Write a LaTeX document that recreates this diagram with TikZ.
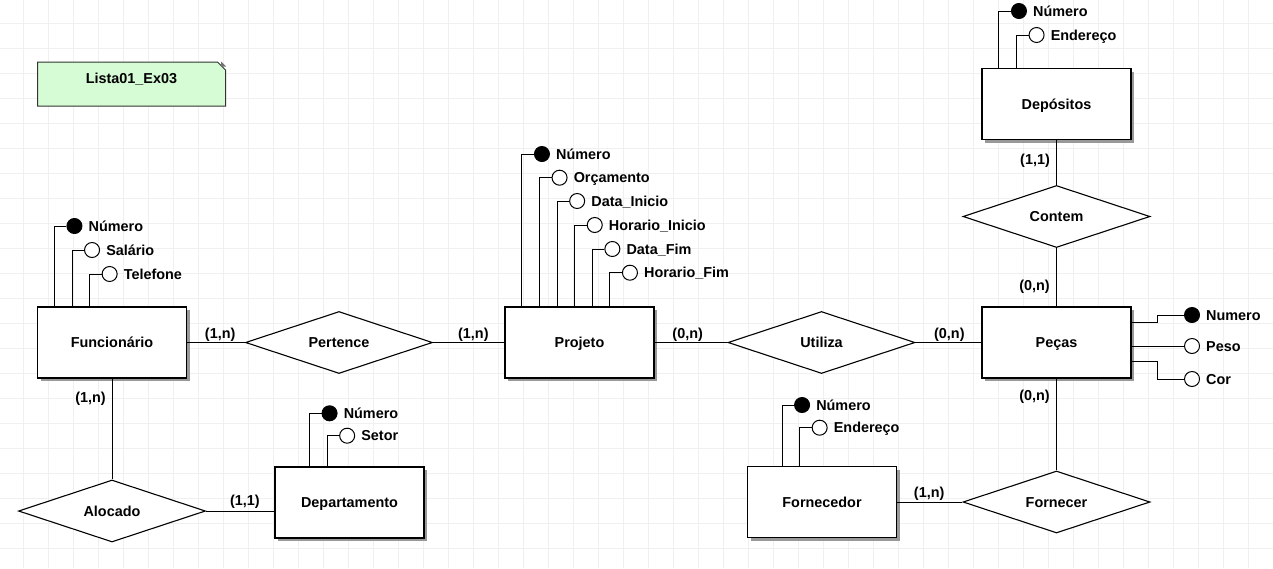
\documentclass[tikz,border=0pt]{standalone}
\usepackage{fontspec}
\setmainfont{Liberation Sans}
\usetikzlibrary{positioning, shapes.geometric, shapes.misc, shadows, calc}
\definecolor{notegreen}{RGB}{213,252,213}
\tikzset{
  entity/.style={rectangle, draw, fill=white, line width=1.3pt, minimum width=149pt,
    minimum height=71pt, inner sep=0pt, text height=10.3pt, text depth=0pt,
    copy shadow={shadow xshift=3pt, shadow yshift=-3pt, fill=black!40, draw=none}},
  relation/.style={diamond, draw, fill=white, line width=1.1pt, aspect=3, inner sep=0pt,
    minimum width=187pt, minimum height=62pt, text height=10.3pt, text depth=0pt},
  attr/.style={circle, draw, fill=white, line width=1pt, minimum size=15pt, inner sep=0pt},
  keyattr/.style={attr, fill=black},
  attrlabel/.style={inner sep=2pt, text height=10.3pt, text depth=0pt},
  card/.style={inner sep=0pt, text height=10.3pt, text depth=0pt},
  link/.style={line width=0.95pt},
  gridline/.style={draw=black!6, line width=0.8pt},
  note/.style={chamfered rectangle, chamfered rectangle corners=north east,
    chamfered rectangle xsep=4pt, chamfered rectangle ysep=4pt, draw=black!80,
    fill=notegreen, line width=1pt, minimum width=188pt, minimum height=36pt,
    inner xsep=0pt, inner ysep=6pt, text height=11pt, text depth=13pt}
}

\begin{document}
\begin{tikzpicture}[x=1pt,y=-1pt,
                    every node/.style={font=\bfseries\fontsize{14.4}{17}\selectfont}]
\useasboundingbox (0,0) rectangle (1273,568);
\fill[white] (0,0) rectangle (1273,568);

% grid
\foreach \gx in {0,...,50}
   \draw[gridline] ({23.3+25*\gx},0) -- ({23.3+25*\gx},568);
\foreach \gy in {0,...,21}
   \draw[gridline] (0,{23.3+25*\gy}) -- (1273,{23.3+25*\gy});

% title note
\node[note] (titulo) at (131.5,84) {Lista01\_Ex03};
\coordinate (foldcorner) at (titulo.east |- titulo.north);
\fill[black!55] ($(foldcorner)+(-5,0)$) -- ($(foldcorner)+(0,5)$) -- ($(foldcorner)+(-5,5)$) -- cycle;

% entities
\node[entity] (func) at (112,342.5) {Funcionário};
\node[entity] (proj) at (579.5,342.5) {Projeto};
\node[entity] (dep) at (1056.5,104) {Depósitos};
\node[entity] (pecas) at (1056.5,342.5) {Peças};
\node[entity] (forn) at (822,502) {Fornecedor};
\node[entity] (depto) at (349.5,502.5) {Departamento};

% relationships
\node[relation] (pert) at (339,342.5) {Pertence};
\node[relation] (util) at (821.5,342.5) {Utiliza};
\node[relation] (contem) at (1056.5,216.5) {Contem};
\node[relation] (forne) at (1056.5,502) {Fornecer};
\node[relation] (aloc) at (112,511) {Alocado};

\draw[link] (func.east) -- (pert.west);
\draw[link] (pert.east) -- (proj.west);
\draw[link] (proj.east) -- (util.west);
\draw[link] (util.east) -- (pecas.west);
\draw[link] (dep.south) -- (contem.north);
\draw[link] (contem.south) -- (pecas.north);
\draw[link] (pecas.south) -- (forne.north);
\draw[link] (forn.east) -- (forne.west);
\draw[link] (func.south) -- (aloc.north);
\draw[link] (aloc.east) -- (aloc.east -| depto.west);

% cardinalities
\node[card] (cFuncPert) [shift={(33,-9)}] at (func.east) {(1,n)};
\node[card] (cProjPert) [shift={(-31,-9)}] at (proj.west) {(1,n)};
\node[card] (cProjUtil) [shift={(33,-9)}] at (proj.east) {(0,n)};
\node[card] (cPecasUtil) [shift={(-32,-9)}] at (pecas.west) {(0,n)};
\node[card] (cDepCont) [shift={(-21.5,19.5)}] at (dep.south) {(1,1)};
\node[card] (cPecasCont) [shift={(-22,-21)}] at (pecas.north) {(0,n)};
\node[card] (cPecasForne) [shift={(-22,16.5)}] at (pecas.south) {(0,n)};
\node[card] (cFornForne) [shift={(32,-10)}] at (forn.east) {(1,n)};
\node[card] (cFuncAloc) [shift={(-21.5,19)}] at (func.south) {(1,n)};
\node[card] (cDeptoAloc) [shift={(-29.5,-2)}] at (depto.west) {(1,1)};

% attributes above the entities
\foreach \e/\s/\y/\kind/\txt in {
   func/1/226/keyattr/Número, func/2/250/attr/Salário, func/3/274/attr/Telefone,
   proj/1/154/keyattr/Número, proj/2/177.7/attr/Orçamento, proj/3/201/attr/Data\_Inicio,
   proj/4/225/attr/Horario\_Inicio, proj/5/249/attr/Data\_Fim, proj/6/272.7/attr/Horario\_Fim,
   dep/1/11/keyattr/Número, dep/2/35/attr/Endereço,
   forn/2/405/keyattr/Número, forn/3/427.7/attr/Endereço,
   depto/2/413.3/keyattr/Número, depto/3/435.7/attr/Setor}
  {\path (\e.north west) ++({17.6*\s},0) coordinate (\e S\s) (0,\y) coordinate (\e Y\s);
   \node[\kind, xshift=20pt] (\e A\s) at (\e S\s |- \e Y\s) {};
   \draw[link] (\e S\s) |- (\e A\s);
   \node[attrlabel, right=4pt of \e A\s] (\e L\s) {\txt};}

% attributes of Pecas
\node[keyattr] (pecasA1) at (1192,315) {};
\node[attr] (pecasA2) at (1192,346) {};
\node[attr] (pecasA3) at (1192,379) {};
\path (pecas.east) ++(0,-20.5) coordinate (pecasR1);
\path (pecas.east) ++(0,19.2) coordinate (pecasR3);
\draw[link] (pecasR1) -- ++(26,0) |- (pecasA1);
\draw[link] (pecas.east |- pecasA2) -- (pecasA2);
\draw[link] (pecasR3) -- ++(26,0) |- (pecasA3);
\node[attrlabel, right=4pt of pecasA1] (pecasL1) {Numero};
\node[attrlabel, right=4pt of pecasA2] (pecasL2) {Peso};
\node[attrlabel, right=4pt of pecasA3] (pecasL3) {Cor};
\end{tikzpicture}
\end{document}
